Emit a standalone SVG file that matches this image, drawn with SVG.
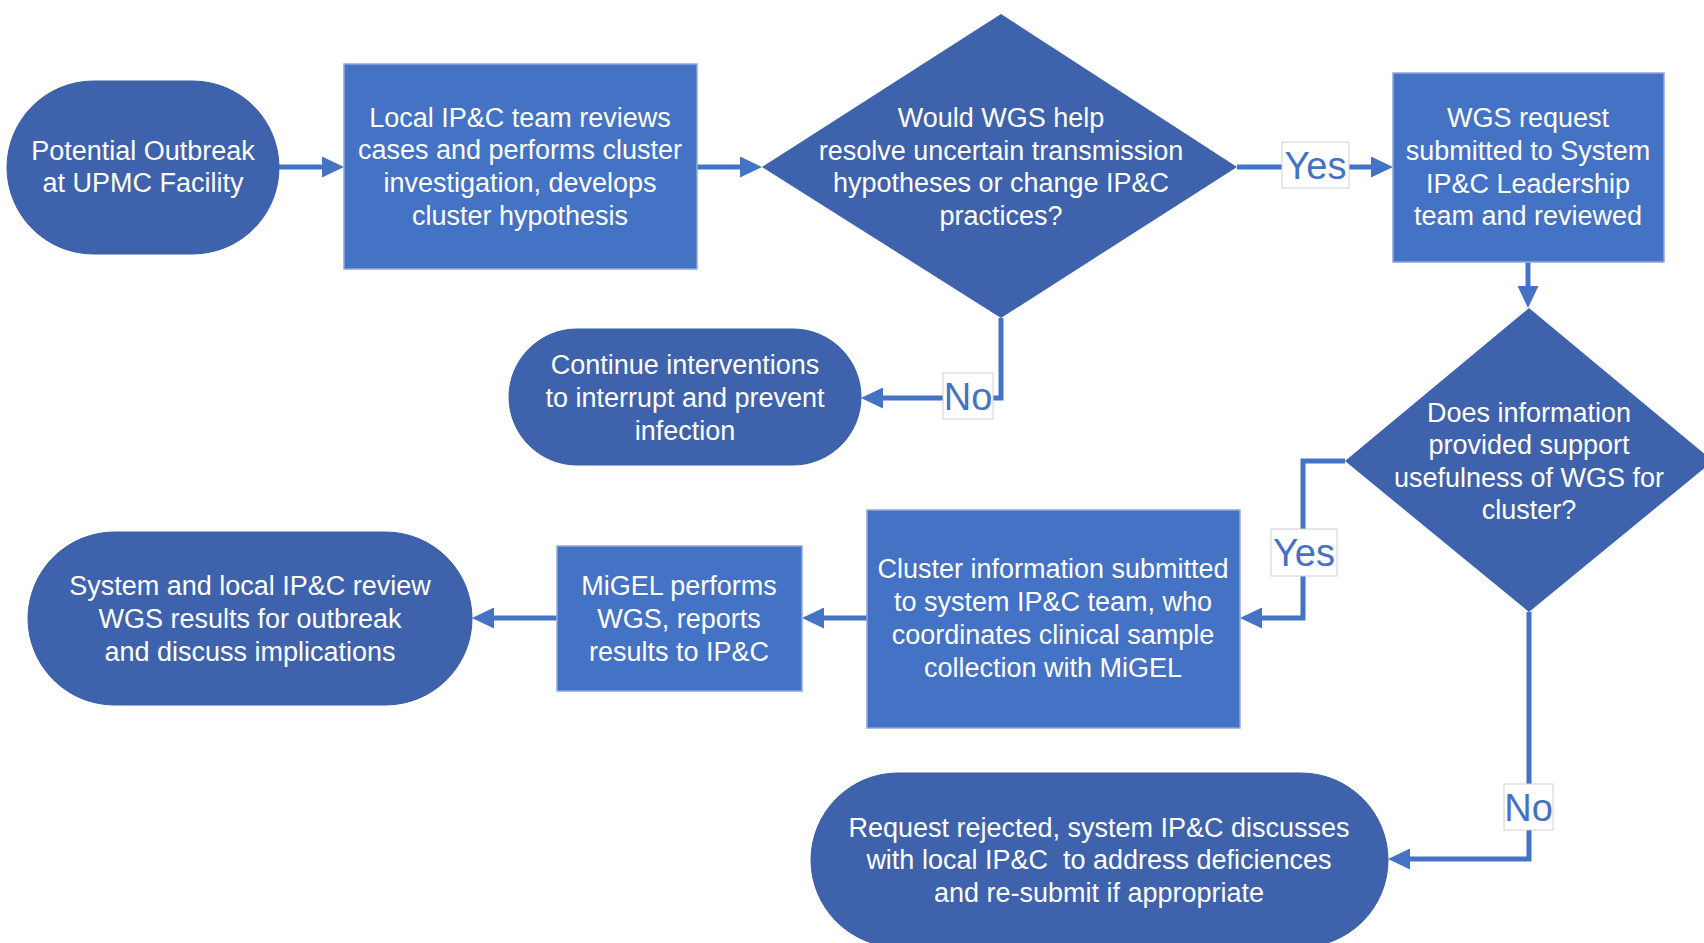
<svg xmlns="http://www.w3.org/2000/svg" width="1704" height="943" viewBox="0 0 1704 943">
<style>
.term{fill:#3E63AC;stroke:#3A5EA3;stroke-width:1}
.dec{fill:#3E63AC}
.proc{fill:#4472C4;stroke:#8EA8D8;stroke-width:1.5}
.t{font-family:"Liberation Sans",Arial,sans-serif;font-size:27px;fill:#FFFFFF;text-anchor:middle}
.conn{fill:none;stroke:#4472C4;stroke-width:5;marker-end:url(#arr)}
.lbox{fill:#FFFFFF;stroke:#D0D0D0;stroke-width:1}
.lt{font-family:"Liberation Sans",Arial,sans-serif;font-size:38px;fill:#4472C4;text-anchor:middle}
</style>
<defs>
<marker id="arr" markerUnits="userSpaceOnUse" markerWidth="22" markerHeight="21" refX="12" refY="10.5" orient="auto">
<path d="M0,0 L22,10.5 L0,21 z" fill="#4472C4"/>
</marker>
</defs>
<rect width="1704" height="943" fill="#FFFFFF"/>
<g id="connectors">
<path class="conn" d="M279,167 H334"/>
<path class="conn" d="M697,167 H752"/>
<path class="conn" d="M1237,167 H1383"/>
<path class="conn" d="M1528,262 V298"/>
<path class="conn" d="M1001,318 V398 H871"/>
<path class="conn" d="M1345,461 H1303 V618 H1250"/>
<path class="conn" d="M867,618 H812"/>
<path class="conn" d="M557,618 H482"/>
<path class="conn" d="M1529,612 V859 H1398"/>
</g>
<g id="start">
<rect class="term" x="7" y="81" width="272" height="173" rx="86.5" ry="86.5"/>
<text class="t" x="143"><tspan x="143" y="159.5">Potential Outbreak</tspan><tspan x="143" y="192">at UPMC Facility</tspan></text>
</g>
<g id="local-review">
<rect class="proc" x="344" y="64" width="353" height="205"/>
<text class="t"><tspan x="520" y="126.5">Local IP&amp;C team reviews</tspan><tspan x="520" y="159">cases and performs cluster</tspan><tspan x="520" y="192">investigation, develops</tspan><tspan x="520" y="224.5">cluster hypothesis</tspan></text>
</g>
<g id="decision-wgs">
<polygon class="dec" points="1001,14 1237,167 1001,318 762,167"/>
<text class="t"><tspan x="1001" y="126.5">Would WGS help</tspan><tspan x="1001" y="159.5">resolve uncertain transmission</tspan><tspan x="1001" y="192">hypotheses or change IP&amp;C</tspan><tspan x="1001" y="225">practices?</tspan></text>
</g>
<g id="wgs-request">
<rect class="proc" x="1393" y="73" width="271" height="189"/>
<text class="t"><tspan x="1528" y="127">WGS request</tspan><tspan x="1528" y="160">submitted to System</tspan><tspan x="1528" y="192.5">IP&amp;C Leadership</tspan><tspan x="1528" y="225">team and reviewed</tspan></text>
</g>
<g id="continue">
<rect class="term" x="509" y="329" width="352" height="136" rx="68" ry="68"/>
<text class="t"><tspan x="685" y="373.5">Continue interventions</tspan><tspan x="685" y="406.5">to interrupt and prevent</tspan><tspan x="685" y="439.5">infection</tspan></text>
</g>
<g id="decision-info">
<polygon class="dec" points="1529,308 1713,461 1529,612 1345,461"/>
<text class="t"><tspan x="1529" y="421.5">Does information</tspan><tspan x="1529" y="454">provided support</tspan><tspan x="1529" y="486.5">usefulness of WGS for</tspan><tspan x="1529" y="519">cluster?</tspan></text>
</g>
<g id="cluster-info">
<rect class="proc" x="867" y="510" width="373" height="218"/>
<text class="t"><tspan x="1053" y="578">Cluster information submitted</tspan><tspan x="1053" y="611">to system IP&amp;C team, who</tspan><tspan x="1053" y="644">coordinates clinical sample</tspan><tspan x="1053" y="676.5">collection with MiGEL</tspan></text>
</g>
<g id="migel">
<rect class="proc" x="557" y="546" width="245" height="145"/>
<text class="t"><tspan x="679" y="594.5">MiGEL performs</tspan><tspan x="679" y="627.5">WGS, reports</tspan><tspan x="679" y="661">results to IP&amp;C</tspan></text>
</g>
<g id="review-results">
<rect class="term" x="28" y="532" width="444" height="173" rx="86.5" ry="86.5"/>
<text class="t"><tspan x="250" y="594.5">System and local IP&amp;C review</tspan><tspan x="250" y="627.5">WGS results for outbreak</tspan><tspan x="250" y="661">and discuss implications</tspan></text>
</g>
<g id="rejected">
<rect class="term" x="811" y="773" width="577" height="174" rx="87" ry="87"/>
<text class="t" style="white-space:pre"><tspan x="1099" y="836.5">Request rejected, system IP&amp;C discusses</tspan><tspan x="1099" y="868.5">with local IP&amp;C  to address deficiences</tspan><tspan x="1099" y="901.5">and re-submit if appropriate</tspan></text>
</g>
<g id="labels">
<rect class="lbox" x="1282" y="142" width="67" height="46"/>
<text class="lt" x="1315.5" y="179">Yes</text>
<rect class="lbox" x="943" y="373" width="50" height="46"/>
<text class="lt" x="968" y="410">No</text>
<rect class="lbox" x="1271" y="529" width="66" height="47"/>
<text class="lt" x="1304" y="566">Yes</text>
<rect class="lbox" x="1504" y="784" width="49" height="46"/>
<text class="lt" x="1528.5" y="821">No</text>
</g>
</svg>
